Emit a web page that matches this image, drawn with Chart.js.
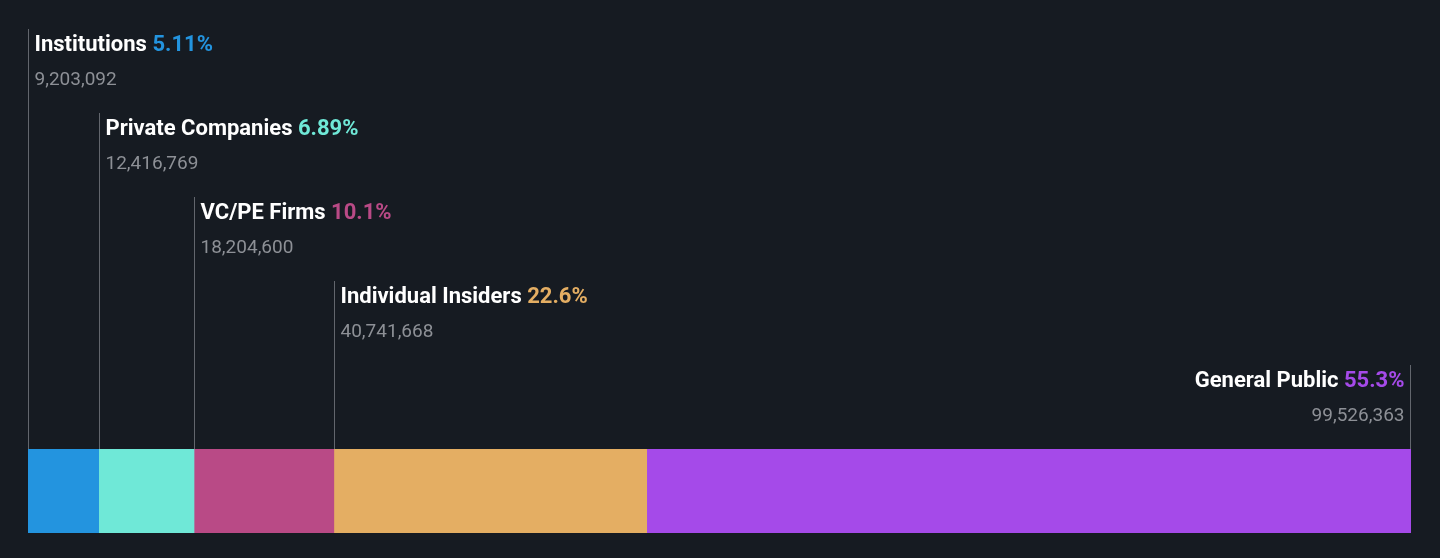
<!DOCTYPE html>
<html>
<head>
<meta charset="utf-8">
<script src="https://cdn.jsdelivr.net/npm/chart.js@4"></script>
<style>
  html, body { margin: 0; padding: 0; background: #161b22; }
  #wrap { width: 1440px; height: 558px; position: relative; }
</style>
</head>
<body>
<div id="wrap"><canvas id="chart-ownership"></canvas></div>
<script>
const categories = ['Institutions', 'Private Companies', 'VC/PE Firms', 'Individual Insiders', 'General Public'];
const shares = [9203092, 12416769, 18204600, 40741668, 99526363];
const percentLabels = ['5.11%', '6.89%', '10.1%', '22.6%', '55.3%'];
const colors = ['#2394df', '#6fe8d7', '#b94a86', '#e4ae63', '#a54ae9'];

const totalShares = shares.reduce((a, b) => a + b, 0);

// desenha os rótulos com as linhas verticais acima da barra
const ownershipLabels = {
  id: 'ownershipLabels',
  afterDatasetsDraw(chart) {
    const ctx = chart.ctx;
    const x = chart.scales.x;
    const area = chart.chartArea;
    let cum = 0;
    categories.forEach((name, i) => {
      const last = i === categories.length - 1;
      const start = x.getPixelForValue(cum);
      cum += shares[i];
      const end = x.getPixelForValue(cum);
      const lineX = last ? Math.round(end) - 0.5 : Math.round(start) + 0.5;
      const top = 29 + i * 84;

      ctx.save();
      ctx.strokeStyle = '#62666d';
      ctx.lineWidth = 1;
      ctx.beginPath();
      ctx.moveTo(lineX, top);
      ctx.lineTo(lineX, area.top);
      ctx.stroke();

      ctx.textBaseline = 'alphabetic';
      ctx.font = 'bold 22px Roboto';
      const title = name + ' ';
      const tw = ctx.measureText(title).width;
      const pw = ctx.measureText(percentLabels[i]).width;
      let tx = last ? lineX - 6 - tw - pw : lineX + 6;
      ctx.fillStyle = '#ffffff';
      ctx.fillText(title, tx, top + 22);
      ctx.fillStyle = colors[i];
      ctx.fillText(percentLabels[i], tx + tw, top + 22);

      ctx.font = '19px Roboto';
      ctx.fillStyle = '#8d9096';
      const val = shares[i].toLocaleString('en-US');
      const vw = ctx.measureText(val).width;
      ctx.fillText(val, last ? lineX - 6 - vw : lineX + 6, top + 56);
      ctx.restore();
    });
  }
};

const configOwnership = {
  type: 'bar',
  data: {
    labels: ['Ownership'],
    datasets: categories.map((name, i) => ({
      label: name,
      data: [shares[i]],
      backgroundColor: colors[i],
      borderWidth: 0,
      barPercentage: 1,
      categoryPercentage: 1
    }))
  },
  options: {
    indexAxis: 'y',
    animation: false,
    responsive: true,
    maintainAspectRatio: false,
    layout: { padding: { left: 28, right: 29, top: 449, bottom: 25 } },
    scales: {
      x: { stacked: true, min: 0, max: totalShares, display: false },
      y: { stacked: true, display: false }
    },
    plugins: {
      legend: { display: false },
      tooltip: { enabled: false }
    }
  },
  plugins: [ownershipLabels]
};

const myChartOwnership = new Chart(document.getElementById('chart-ownership'), configOwnership);
</script>
</body>
</html>
